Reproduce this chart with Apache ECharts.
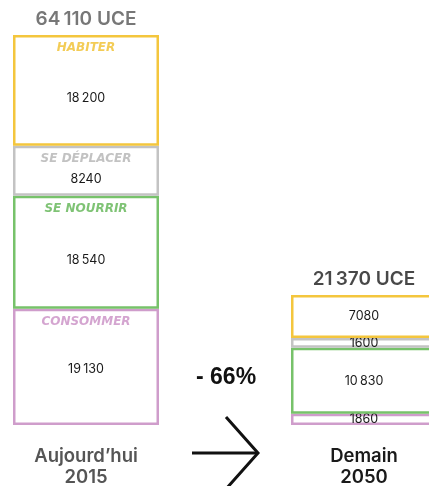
<!DOCTYPE html>
<html><head><meta charset="utf-8">
<script src="https://cdn.jsdelivr.net/npm/echarts@6/dist/echarts.min.js"></script>
<style>html,body{margin:0;padding:0;background:#fff}#c{width:429px;height:486px}</style>
</head><body><div id="c"></div>
<script>
const categories = ['2015', '2050'];
const axisLabels = ['Aujourd’hui\n2015', 'Demain\n2050'];
const groupNames = ['CONSOMMER', 'SE NOURRIR', 'SE DÉPLACER', 'HABITER'];
const consommer = [19130, 1860];
const seNourrir = [18540, 10830];
const seDeplacer = [8240, 1600];
const habiter = [18200, 7080];
const totals = [64110, 21370];
const reduction = '- 66%';
const colors = ['#cf9dcb', '#77c26a', '#c3c3c3', '#f4c63d'];
const nameColors = ['#c98fc4', '#5fb452', '#b3b3b3', '#f0bf2c'];

const seriesValues = [consommer, seNourrir, seDeplacer, habiter];
function fmt(v) {
  const s = String(v);
  return v >= 10000 ? s.slice(0, s.length - 3) + '\u202f' + s.slice(-3) : s;
}
const font = 'Inter, "Liberation Sans", sans-serif';
const series = seriesValues.map((vals, i) => ({
  type: 'bar', stack: 'total', barWidth: 146,
  data: vals.map((v, j) => j === 0 ? { value: v, label: { offset: [0, i === 0 ? 2 : 8] } } : v),
  itemStyle: { color: '#fff', borderColor: colors[i], borderWidth: 2.5 },
  label: { show: true, position: 'inside', color: '#1a1a1a', fontSize: 12.5, fontFamily: font,
    formatter: p => fmt(p.value) },
  z: 2 + i
}));
// segment names (2015 only), placed at top of each segment
let cum = 0;
const nameData = seriesValues.map((vals, i) => {
  cum += vals[0];
  return { value: [0, cum], label: { color: nameColors[i] }, name: groupNames[i] };
});
series.push({
  type: 'scatter', symbolSize: 0, data: nameData, z: 10,
  label: { show: true, position: 'bottom', distance: 7, fontSize: 12, fontStyle: 'italic',
    fontWeight: 'bold', fontFamily: '"DejaVu Sans", sans-serif', formatter: p => p.name }
});
series.push({
  type: 'scatter', symbolSize: 0, z: 10,
  data: totals.map((t, i) => ({ value: [i, t], label: { color: i === 0 ? '#555' : '#1a1a1a' } })),
  label: { show: true, position: 'top', distance: 6, fontSize: 19, fontWeight: 600,
    fontFamily: font, formatter: p => fmt(p.value[1]) + ' UCE' }
});

const chart = echarts.init(document.getElementById('c'));
chart.setOption({
  animation: false,
  grid: { left: -53, width: 556, top: 35, bottom: 61, containLabel: false, outerBoundsMode: 'none' },
  xAxis: {
    type: 'category', data: categories,
    axisLine: { show: false }, axisTick: { show: false },
    axisLabel: {
      margin: 21, interval: 0,
      formatter: (v, i) => {
        const k = i === 0 ? 'a' : 'b';
        return axisLabels[i].split('\n').map(t => '{' + k + '|' + t + '}').join('\n');
      },
      rich: {
        a: { fontSize: 18.5, fontWeight: 600, color: '#555', fontFamily: font, lineHeight: 21 },
        b: { fontSize: 18.5, fontWeight: 600, color: '#1a1a1a', fontFamily: font, lineHeight: 21 }
      }
    }
  },
  yAxis: { type: 'value', min: 0, max: totals[0], show: false },
  series: series,
  graphic: [
    { type: 'text', left: 196, top: 366, style: { text: reduction, fontSize: 23, fontWeight: 'bold',
      fontFamily: '"Liberation Sans Narrow", "Liberation Sans", sans-serif', fill: '#111' } },
    { type: 'polyline', shape: { points: [[192, 453], [258, 453]] }, style: { stroke: '#111', lineWidth: 3, fill: null } },
    { type: 'polyline', shape: { points: [[226, 417], [258, 453], [226, 489]] }, style: { stroke: '#111', lineWidth: 3, fill: null } }
  ]
});
</script></body></html>
